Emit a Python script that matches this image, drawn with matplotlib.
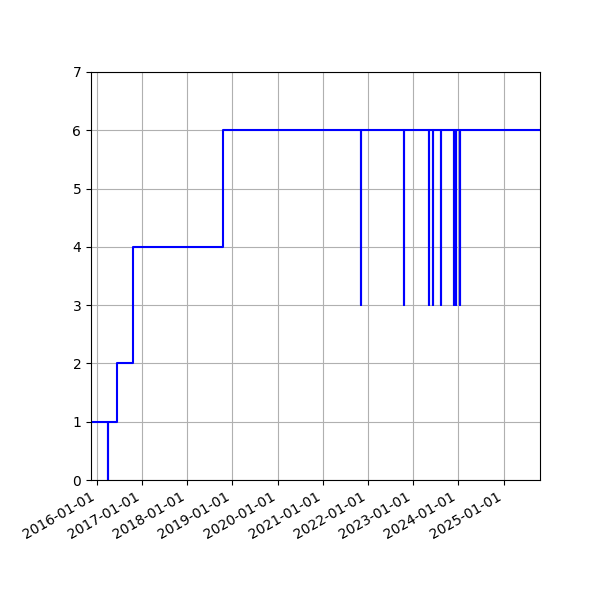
import matplotlib
matplotlib.use("Agg")
import matplotlib.pyplot as plt
import matplotlib.dates as mdates
import numpy as np
from datetime import datetime

dates = [
    "2015-11-14", "2016-03-27", "2016-03-29", "2016-06-13", "2016-10-21",
    "2018-10-15",
    "2021-11-03", "2021-11-04",
    "2022-10-17", "2022-10-18",
    "2023-05-12", "2023-05-13",
    "2023-06-13", "2023-06-14",
    "2023-08-16", "2023-08-17",
    "2023-11-30", "2023-12-01",
    "2023-12-11", "2023-12-12",
    "2024-01-15", "2024-01-16",
    "2025-10-23",
]
values = [1, 0, 1, 2, 4,
          6,
          3, 6,
          3, 6,
          3, 6,
          3, 6,
          3, 6,
          3, 6,
          3, 6,
          3, 6,
          6]

x = [datetime.strptime(d, "%Y-%m-%d") for d in dates]

fig = plt.figure(figsize=(6, 6), dpi=100)
ax = fig.add_axes([0.1517, 0.2, 0.7483, 0.68])
ax.plot(x, values, drawstyle="steps-post", color="blue", linewidth=1.5)
ax.set_xlim(x[0], x[-1])
ax.set_ylim(0, 7)
ax.xaxis.set_major_locator(mdates.YearLocator())
ax.xaxis.set_major_formatter(mdates.DateFormatter("%Y-%m-%d"))
ax.grid(True)
for lbl in ax.get_xticklabels():
    lbl.set_rotation(30)
    lbl.set_ha("right")
fig.savefig("out.png", dpi=100)
